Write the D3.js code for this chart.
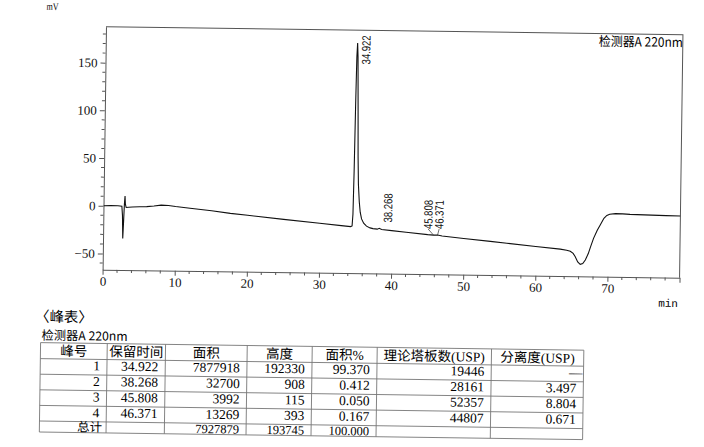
<!DOCTYPE html>
<html><head><meta charset="utf-8">
<script src="https://cdn.jsdelivr.net/npm/d3@7"></script>
<style>body{margin:0;background:#fff}svg{display:block}</style>
</head><body>
<svg id="c" width="704" height="447"></svg>
<script>
// ---------- data ----------
const traceTime = [0,1,2,2.55,2.65,2.73,2.82,2.9,2.97,3.03,3.15,3.5,4,5,6,7,8,9,10,12,15,17.6,20,25,30,33,34.3,34.5,34.6,34.68,34.76,34.84,34.92,35.0,35.1,35.2,35.3,35.45,35.6,35.8,36.1,36.5,37,37.4,38.0,38.27,38.6,40,42,45,45.81,46.37,47,50,53.7,56,60,63.4,64.3,64.8,65.2,65.5,65.85,66.2,66.55,66.9,67.3,67.6,68,68.5,68.9,69.4,69.8,70.2,71,72,73,75,78,80];
const traceMV   = [0,0.3,0.2,-0.3,-10,-34,-15,3,10.5,2,-1.5,-1.2,-0.8,-0.5,-0.3,0.5,1.5,1.2,0.2,-1.4,-3.6,-6.1,-7.9,-11.6,-15.2,-17.3,-18.2,-17.5,-5,40,110,160,174.3,160,110,55,26,8,-3,-10,-14.5,-17.5,-19.3,-20,-20.5,-19.6,-20.8,-21.8,-23.3,-25.5,-25.9,-25.8,-26.8,-29,-31.7,-33.4,-36.3,-38.8,-39.8,-40.8,-43,-46.5,-52,-54.4,-53.5,-49.8,-43,-36,-27,-18.5,-12.9,-5.8,-2.8,-1.5,-0.8,-0.9,-1.3,-1.6,-2.1,-2.3];

const peakTimes  = [34.922, 38.268, 45.808, 46.371];
const peakLabels = ["34.922", "38.268", "45.808", "46.371"];

const xMajor    = [0,10,20,30,40,50,60,70,80];
const xLabeled  = [0,10,20,30,40,50,60,70];
const yMajor    = [-50,0,50,100,150];

const tableHeaders = ["峰号","保留时间","面积","高度","面积%","理论塔板数(USP)","分离度(USP)"];
const peakNo     = ["1","2","3","4"];
const retTime    = ["34.922","38.268","45.808","46.371"];
const peakArea   = ["7877918","32700","3992","13269"];
const peakHeight = ["192330","908","115","393"];
const areaPct    = ["99.370","0.412","0.050","0.167"];
const plates     = ["19446","28161","52357","44807"];
const resolution = ["—","3.497","8.804","0.671"];
const totalRow   = ["总计","","7927879","193745","100.000","",""];

const detectorLabel = "检测器A 220nm";
const tableTitle = "〈峰表〉";

// ---------- layout ----------
const L = 106, T = 26.7, W = 577, H = 243, tilt = 0.8;
const serif = "'Liberation Serif','Noto Sans CJK SC',serif";
const cjk = "'Noto Sans CJK SC','Liberation Serif',sans-serif";
const axisCol = "#555";

const svg = d3.select("#c");
svg.append("rect").attr("width",704).attr("height",447).attr("fill","#fff");
const root = svg.append("g").attr("transform", `rotate(${tilt},${L},${T})`);

const x = d3.scaleLinear().domain([0,80]).range([L, L+W]);
const y = d3.scaleLinear().domain([-67,187.7]).range([T+H, T]);

// frame top/right
root.append("path").attr("d", `M${L},${T}H${L+W}V${T+H}`)
  .attr("fill","none").attr("stroke",axisCol).attr("stroke-width",1);

// axes
const xAxis = d3.axisBottom(x).tickValues(xMajor).tickSize(5).tickSizeOuter(0).tickPadding(2)
  .tickFormat(d => xLabeled.includes(d) ? d : "");
const gx = root.append("g").attr("transform",`translate(0,${T+H})`).call(xAxis);
const yAxis = d3.axisLeft(y).tickValues(yMajor).tickSize(5).tickSizeOuter(0).tickPadding(3);
const gy = root.append("g").attr("transform",`translate(${L},0)`).call(yAxis);
[gx, gy].forEach(g => {
  g.selectAll("path,line").attr("stroke",axisCol);
  g.selectAll("text").attr("font-family",serif).attr("font-size",13).attr("fill","#111");
});
// minor ticks
root.append("g").selectAll("line").data(d3.range(0,81,2).filter(v => v % 10))
  .join("line").attr("x1",d=>x(d)).attr("x2",d=>x(d)).attr("y1",T+H).attr("y2",T+H+3)
  .attr("stroke",axisCol);
root.append("g").selectAll("line").data(d3.range(-60,181,10).filter(v => v % 50))
  .join("line").attr("x1",L-3).attr("x2",L).attr("y1",d=>y(d)).attr("y2",d=>y(d))
  .attr("stroke",axisCol);

// unit labels
root.append("text").attr("x",46.4).attr("y",10.7).text("mV")
  .attr("font-family",serif).attr("font-size",10).attr("textLength",12).attr("lengthAdjust","spacingAndGlyphs");
root.append("text").attr("x",662).attr("y",299).text("min")
  .attr("font-family","'Liberation Mono',monospace").attr("font-size",11);
root.append("text").attr("x",L+W).attr("y",T+12.3).attr("text-anchor","end").text(detectorLabel)
  .attr("font-family",cjk).attr("font-size",13).attr("textLength",84).attr("lengthAdjust","spacingAndGlyphs");

// trace
root.append("clipPath").attr("id","clip").append("rect").attr("x",L).attr("y",T).attr("width",W).attr("height",H);
const idx = d3.range(traceTime.length);
root.append("path").attr("clip-path","url(#clip)")
  .attr("d", d3.line().x(i => x(traceTime[i])).y(i => y(traceMV[i]))(idx))
  .attr("fill","none").attr("stroke","#111").attr("stroke-width",1.1);

// peak labels
function interp(t){
  const i = d3.bisectLeft(traceTime, t);
  if (i <= 0) return traceMV[0];
  const t0 = traceTime[i-1], t1 = traceTime[i];
  return traceMV[i-1] + (traceMV[i]-traceMV[i-1])*(t-t0)/(t1-t0);
}
const labelLen = 29, gap = 11, off = 8.6;
const items = peakTimes.map((t,i) => ({px:x(t), py:y(interp(t)), text:peakLabels[i]}));
items.forEach(d => d.lx = d.px + off);
const groups = [];
items.forEach(d => { const g = groups[groups.length-1]; if (g && d.lx - g[g.length-1].lx < gap) g.push(d); else groups.push([d]); });
groups.forEach(g => { if (g.length > 1) { const c = d3.mean(g, d => d.px) - 2; g.forEach((d,k) => { d.lx = c + (k-(g.length-1)/2)*gap; d.leader = true; }); } });
items.forEach(d => { d.by = d.py - 6; if (d.by - labelLen < T + 5) d.by = T + 5 + labelLen; });
root.append("g").selectAll("line").data(items.filter(d => d.leader)).join("line")
  .attr("x1",d=>d.lx).attr("y1",d=>d.by).attr("x2",d=>d.px).attr("y2",d=>d.py)
  .attr("stroke","#333").attr("stroke-width",0.7);
root.append("g").selectAll("text").data(items).join("text")
  .attr("transform", d => `translate(${d.lx},${d.by}) rotate(-90)`)
  .attr("dy","0.35em").text(d => d.text)
  .attr("font-family","'Liberation Sans Narrow','Liberation Sans',sans-serif").attr("font-size",12)
  .attr("textLength",labelLen).attr("lengthAdjust","spacingAndGlyphs").attr("fill","#111");

// ---------- peak table ----------
root.append("text").attr("x",39).attr("y",322.5).text(tableTitle).attr("font-family",cjk).attr("font-size",14.5);
root.append("text").attr("x",46).attr("y",340.5).text(detectorLabel).attr("font-family",cjk).attr("font-size",12.5)
  .attr("textLength",86).attr("lengthAdjust","spacingAndGlyphs");

const colX = [45,111.7,170,251.7,316.7,381.7,496,588.3];
const tTop = 343.5, hH = 16, rH = 15.6, totH = 11;
const rowTops = [tTop, tTop+hH, tTop+hH+rH, tTop+hH+2*rH, tTop+hH+3*rH, tTop+hH+4*rH];
const tBot = rowTops[5] + totH;
const tg = root.append("g");
const lineStyle = s => s.attr("stroke","#777").attr("stroke-width",0.9);
tg.selectAll("line.h").data([...rowTops, tBot]).join("line").attr("class","h")
  .attr("x1",colX[0]).attr("x2",colX[7]).attr("y1",d=>d).attr("y2",d=>d).call(lineStyle);
tg.selectAll("line.v").data(colX).join("line").attr("class","v")
  .attr("x1",d=>d).attr("x2",d=>d).attr("y1",tTop).attr("y2",tBot).call(lineStyle);
tg.selectAll("text.hd").data(tableHeaders).join("text").attr("class","hd")
  .attr("x",(d,i)=>(colX[i]+colX[i+1])/2).attr("y",tTop+12.8).attr("text-anchor","middle")
  .text(d=>d).attr("font-family",serif).attr("font-size",13.5);
const rows = peakNo.map((n,i) => [n, retTime[i], peakArea[i], peakHeight[i], areaPct[i], plates[i], resolution[i]]);
rows.forEach((r,ri) => {
  tg.append("g").selectAll("text").data(r).join("text")
    .attr("x",(d,i)=>colX[i+1] - (i===6 && d==="—" ? 1 : 7)).attr("y",rowTops[ri+1]+11).attr("text-anchor","end")
    .text(d=>d).attr("font-family",serif).attr("font-size",13.5);
});
tg.append("g").selectAll("text").data(totalRow).join("text")
  .attr("x",(d,i)=>colX[i+1] - (i===0 ? 4 : 7)).attr("y",rowTops[5]+9.8).attr("text-anchor","end")
  .text(d=>d).attr("font-family",serif).attr("font-size",12.5);
</script>
</body></html>
